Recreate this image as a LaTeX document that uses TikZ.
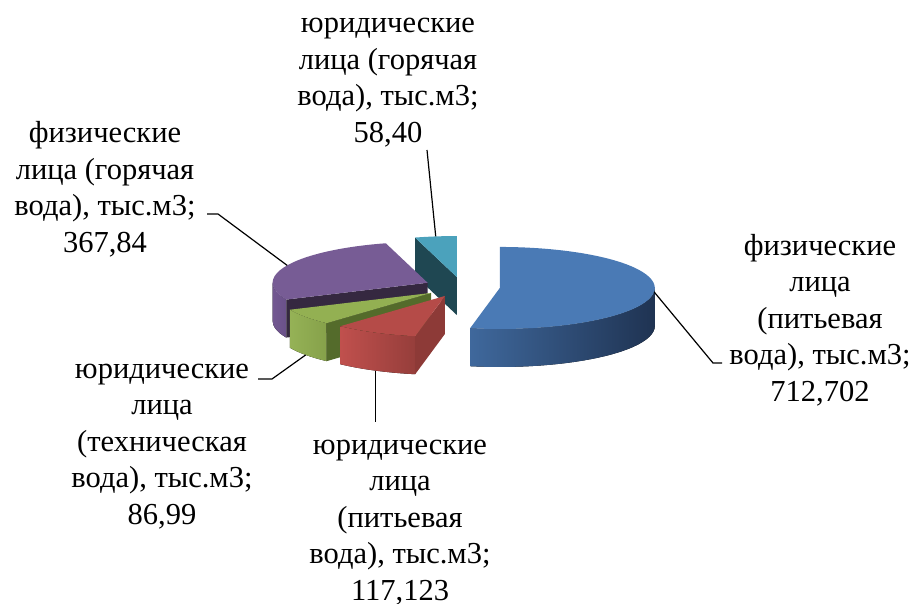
\documentclass[tikz,border=0pt]{standalone}
\usepackage{fontspec}
\setmainfont{Liberation Serif}
\usetikzlibrary{calc}
\definecolor{bTop}{HTML}{4A7AB5}
\definecolor{bSideL}{HTML}{3F689C}
\definecolor{bSideR}{HTML}{1F3352}
\definecolor{rTop}{HTML}{B54B48}
\definecolor{rSideL}{HTML}{C0504D}
\definecolor{rSideR}{HTML}{963E3B}
\definecolor{rCut}{HTML}{8D3A37}
\definecolor{gTop}{HTML}{93B052}
\definecolor{gSideL}{HTML}{95B256}
\definecolor{gSideR}{HTML}{86A14A}
\definecolor{gCut}{HTML}{546B2B}
\definecolor{pTop}{HTML}{775C95}
\definecolor{pSideL}{HTML}{735891}
\definecolor{pSideR}{HTML}{6A5189}
\definecolor{pCut}{HTML}{352840}
\definecolor{tTop}{HTML}{4BA2BC}
\definecolor{tCut}{HTML}{1F4752}
\newcommand\topface[4]{\fill[#4] (#1) -- ($(#1)+(#2:155pt and 41pt)$) arc[start angle=#2, end angle=#3, x radius=155pt, y radius=41pt] -- cycle;}
\newcommand\sideface[4]{\fill[#4] ($(#1)+(#2:155pt and 41pt)$) arc[start angle=#2, end angle=#3, x radius=155pt, y radius=41pt] -- ++(0,-38pt) arc[start angle=#3, end angle=#2, x radius=155pt, y radius=41pt] -- cycle;}
\newcommand\cutface[3]{\fill[#3] (#1) -- ($(#1)+(#2:155pt and 41pt)$) -- ++(0,-38pt) -- ($(#1)+(0,-38pt)$) -- cycle;}
\begin{document}
\begin{tikzpicture}[x=1pt,y=1pt,
  lbl/.style={align=center, inner sep=0pt, font=\fontsize{30.5}{36.5}\selectfont},
  leader/.style={draw=black, line width=1.2pt}]
\useasboundingbox (0,0) rectangle (919,603);
\coordinate (C) at (462,316);
\coordinate (Ob) at ($(C)+(-5.52:38pt and 10.05pt)$);
\coordinate (Or) at ($(C)+(-116.735:38pt and 10.05pt)$);
\coordinate (Og) at ($(C)+(-144.09:38pt and 10.05pt)$);
\coordinate (Op) at ($(C)+(154.95:38pt and 10.05pt)$);
\coordinate (Ot) at ($(C)+(97.825:38pt and 10.05pt)$);
% teal
\cutface{Ot}{105.65}{tCut}
\topface{Ot}{90}{105.65}{tTop}
% purple
\sideface{Op}{180}{204.25}{left color=pSideL, right color=pSideR}
\cutface{Op}{204.25}{pCut}
\topface{Op}{105.65}{204.25}{pTop}
% blue
\sideface{Ob}{-101.04}{0}{left color=bSideL, right color=bSideR}
\topface{Ob}{-101.04}{90}{bTop}
% green
\sideface{Og}{-155.75}{-132.43}{left color=gSideL, right color=gSideR}
\cutface{Og}{-132.43}{gCut}
\topface{Og}{-155.75}{-132.43}{gTop}
% red
\sideface{Or}{-132.43}{-101.04}{left color=rSideL, right color=rSideR}
\cutface{Or}{-101.04}{rCut}
\topface{Or}{-132.43}{-101.04}{rTop}
% labels
\node[lbl] (Lt) at (388,523) {\strut юридические\\лица (горячая\\вода), тыс.м3;\\58,40\strut};
\node[lbl] (Ll) at (105,413) {\strut физические\\лица (горячая\\вода), тыс.м3;\\367,84\strut};
\node[lbl] (Lr) at (820,282) {\strut физические\\лица\\(питьевая\\вода), тыс.м3;\\712,702\strut};
\node[lbl] (Lg) at (162,159) {\strut юридические\\лица\\(техническая\\вода), тыс.м3;\\86,99\strut};
\node[lbl] (Lrd) at (400,83) {\strut юридические\\лица\\(питьевая\\вода), тыс.м3;\\117,123\strut};
% leader anchor points
\coordinate (tRim) at ($(Ot)+(97.825:155pt and 41pt)$);
\coordinate (pRim) at ($(Op)+(154.95:155pt and 41pt)$);
\coordinate (bRim) at ($(Ob)+(-5.52:155pt and 41pt)$);
\coordinate (gRim) at ($(Og)+(-144.09:155pt and 41pt)+(0,-38pt)$);
\coordinate (rRim) at ($(Or)+(-116.735:155pt and 41pt)+(0,-38pt)$);
\coordinate (tEnd) at (427,453);
\coordinate (pEnd) at (207,389);
\coordinate (pBend) at (218,389);
\coordinate (bBend) at (713,240);
\coordinate (bEnd) at (722,240);
\coordinate (gBend) at (272,224);
\coordinate (gEnd) at (258,224);
\coordinate (rEnd) at (375,181);
\draw[leader] (tEnd) -- (tRim);
\draw[leader] (pEnd) -- (pBend) -- (pRim);
\draw[leader] (bRim) -- (bBend) -- (bEnd);
\draw[leader] (gRim) -- (gBend) -- (gEnd);
\draw[leader] (rRim) -- (rRim |- rEnd);
\end{tikzpicture}
\end{document}
